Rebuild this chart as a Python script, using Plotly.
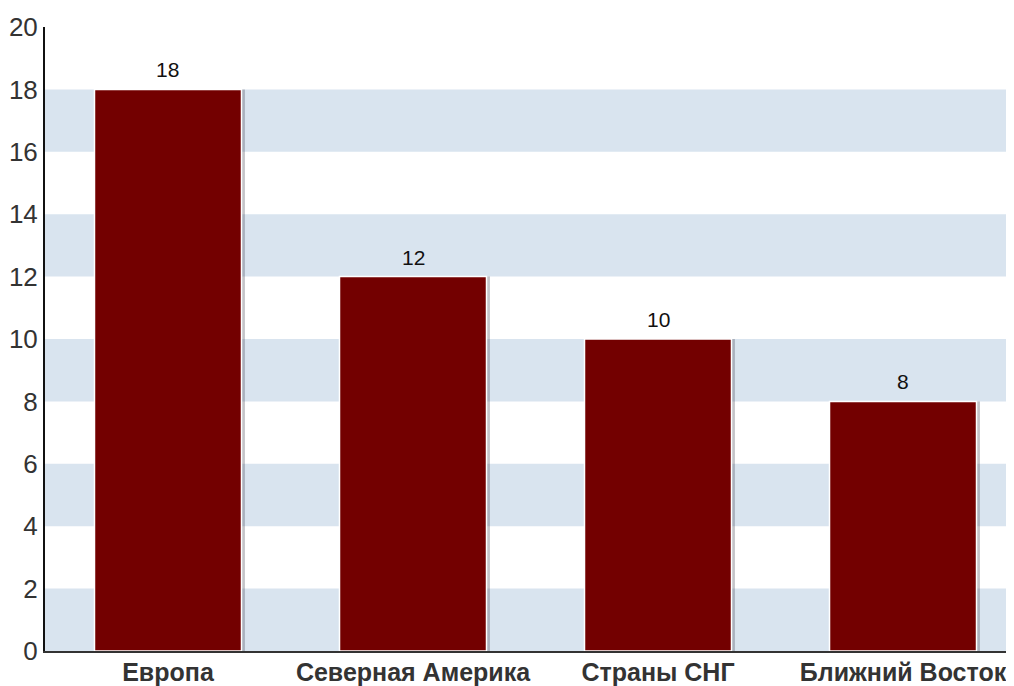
import plotly.graph_objects as go

categories = ["Европа", "Северная Америка", "Страны СНГ", "Ближний Восток"]
values = [18, 12, 10, 8]
y_ticks = [0, 2, 4, 6, 8, 10, 12, 14, 16, 18, 20]

BAR = "#730000"
BAND = "#d9e4ef"
TEXT = "#333333"
FONT = "Liberation Sans, Arial"

fig = go.Figure()

# shadow
fig.add_trace(go.Bar(
    x=categories, y=values, width=0.6, offset=-0.3 + 0.014,
    marker=dict(color="rgba(70,70,85,0.32)", line=dict(width=0)),
    hoverinfo="skip", showlegend=False,
))
fig.add_trace(go.Bar(
    x=categories, y=values, width=0.6, offset=-0.3,
    marker=dict(color=BAR, line=dict(color="white", width=1.5)),
    showlegend=False,
))

annotations = [
    dict(x=c, y=v, text=str(v), showarrow=False, yanchor="bottom", yshift=6,
         font=dict(family=FONT, size=21, color="#111111"))
    for c, v in zip(categories, values)
]

shapes = []
for i in range(0, len(y_ticks) - 1, 2):
    shapes.append(dict(type="rect", xref="paper", yref="y", x0=0, x1=1,
                       y0=y_ticks[i], y1=y_ticks[i + 1],
                       fillcolor=BAND, line=dict(width=0), layer="below"))

fig.update_layout(
    width=1006, height=678,
    margin=dict(l=37, r=0, t=19, b=27),
    paper_bgcolor="white", plot_bgcolor="white",
    barmode="overlay",
    shapes=shapes,
    annotations=annotations,
    font=dict(family=FONT, color=TEXT),
    xaxis=dict(
        range=[-0.502, 3.453], showgrid=False, zeroline=False,
        showline=True, linecolor="#333333", linewidth=2,
        ticks="", tickfont=dict(size=25, color=TEXT, family=FONT),
        tickprefix="<b>", ticksuffix="</b>", ticklabelstandoff=-2,
    ),
    yaxis=dict(
        range=[0, 20], tickvals=y_ticks, showgrid=False, zeroline=False,
        showline=True, linecolor="#111111", linewidth=2,
        ticks="", tickfont=dict(size=26, color=TEXT), ticklabelstandoff=0,
    ),
)

fig.write_html("out.html")
